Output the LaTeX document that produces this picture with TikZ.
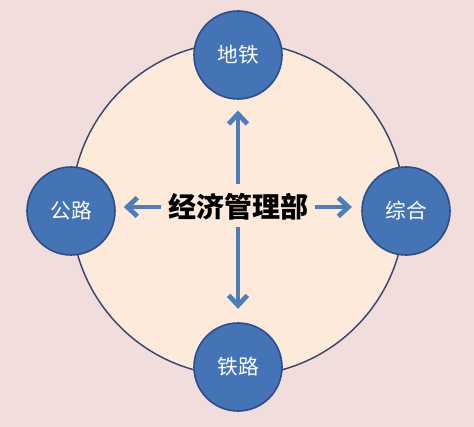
\documentclass[tikz,border=0pt]{standalone}
\usepackage{fontspec}
\usepackage{tikz}
\usetikzlibrary{positioning,arrows.meta}
\newfontfamily\cjk{Noto Sans CJK SC}

\definecolor{bgpink}{RGB}{242,221,221}
\definecolor{ringfill}{RGB}{253,234,218}
\definecolor{ringline}{RGB}{58,70,108}
\definecolor{ballblue}{RGB}{68,115,182}
\definecolor{ballline}{RGB}{45,78,138}
\definecolor{arrblue}{RGB}{76,126,188}

\tikzset{
  ball/.style={circle, fill=ballblue, draw=ballline, line width=1.2pt,
    minimum size=66pt, inner sep=0pt, text=white, font=\cjk\fontsize{15.5}{15.5}\selectfont},
  arr/.style={-{Straight Barb[length=7.5pt,width=14pt]}, line width=3.6pt, draw=arrblue}
}

\begin{document}
\begin{tikzpicture}[x=0.75pt, y=-0.75pt]
  \fill[bgpink] (0,0) rectangle (474,427);
  \useasboundingbox (0,0) rectangle (474,427);
  % big ring
  \node[circle, fill=ringfill, draw=ringline, line width=1.1pt,
    minimum size=250pt, inner sep=0pt] (ring) at (238,209) {};
  % four departments
  \node[ball] (dt) at (238,55) {地铁};
  \node[ball] (gl) at (71,211) {公路};
  \node[ball] (zh) at (406,211) {综合};
  \node[ball] (tl) at (238,367) {铁路};
  % centre
  \node[inner sep=0pt, font=\cjk\bfseries\fontsize{21}{21}\selectfont] (jj) at (238,207) {经济管理部};
  \draw[arr, shorten <=7pt, shorten >=8pt] (jj.north) -- (dt.south);
  \draw[arr, shorten <=5pt, shorten >=10pt] (jj.south) -- (tl.north);
  \draw[arr, shorten <=5pt, shorten >=6pt] (jj.west) -- (gl.east |- jj.west);
  \draw[arr, shorten <=5pt, shorten >=7pt] (jj.east) -- (zh.west |- jj.east);
\end{tikzpicture}
\end{document}
